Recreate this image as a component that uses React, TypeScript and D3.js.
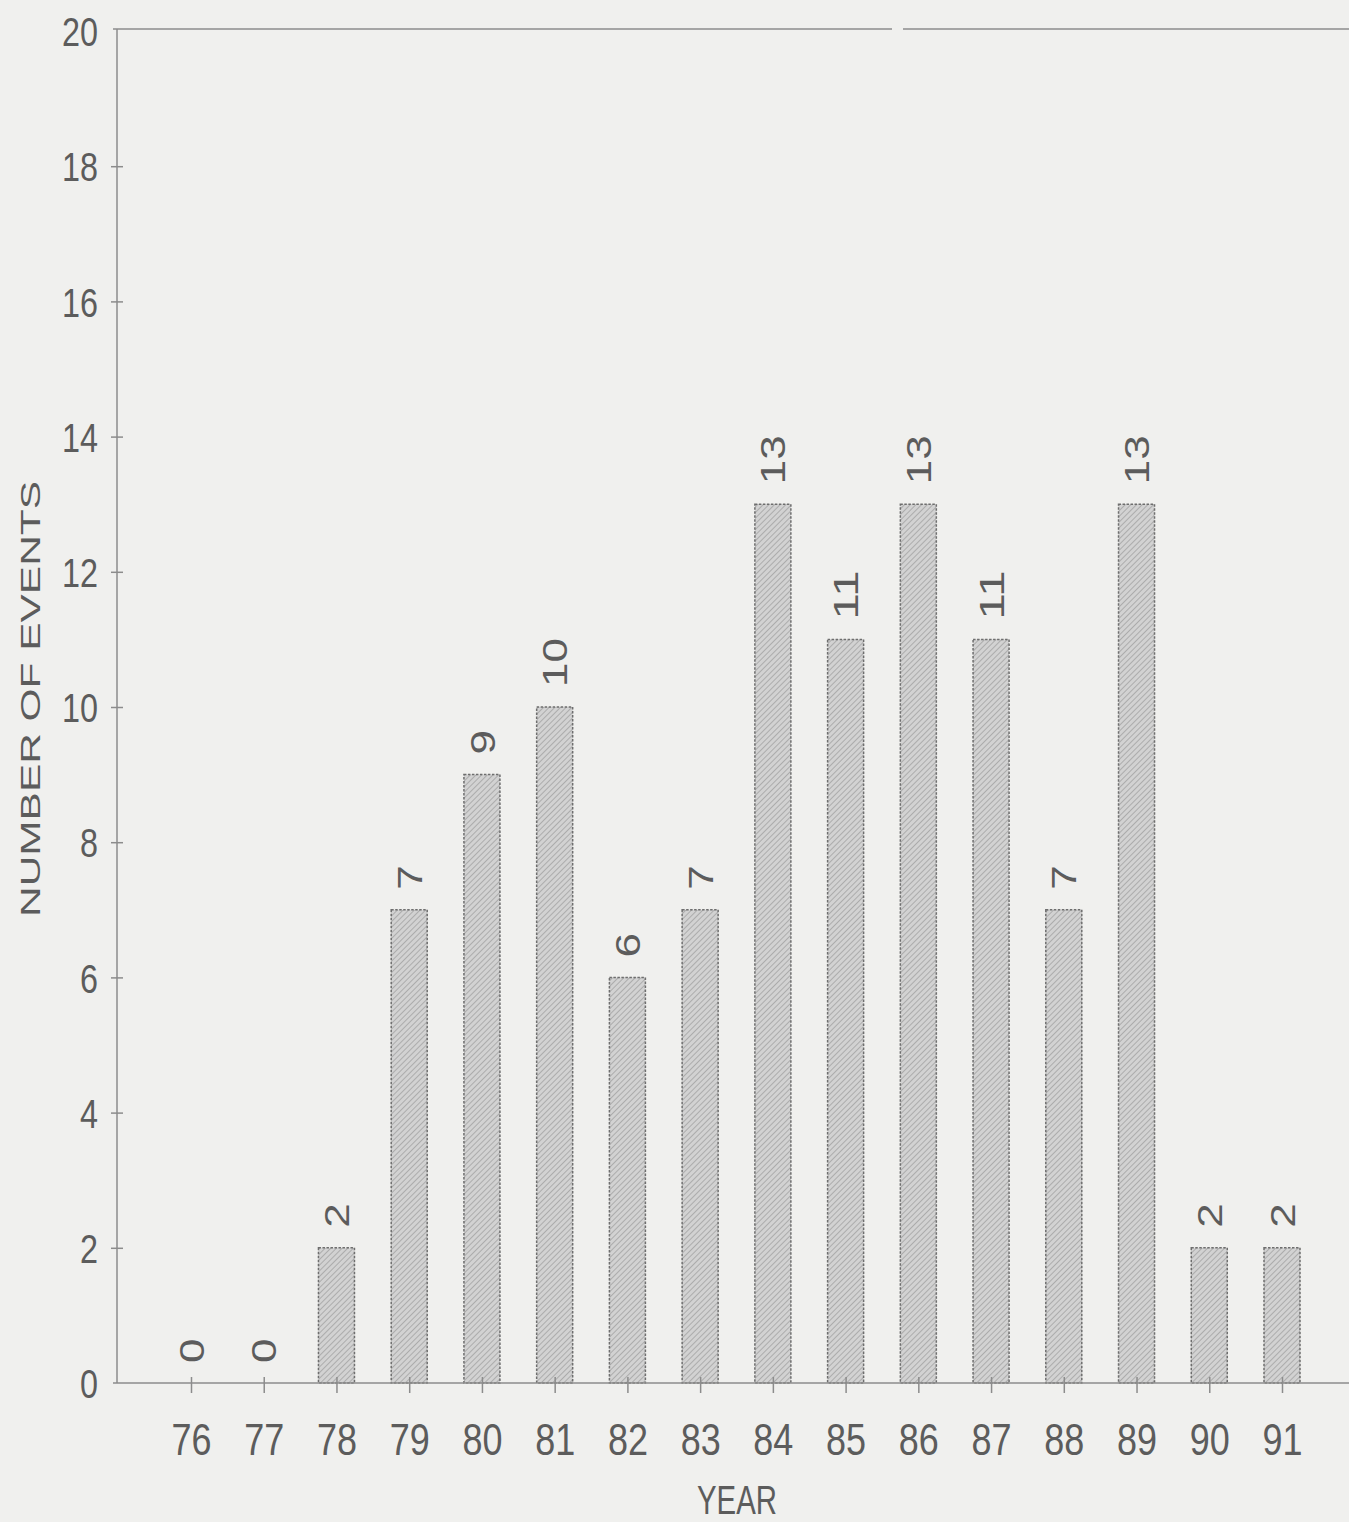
import React, { useEffect, useRef } from "react";
import * as d3 from "d3";

const years: string[] = ["76", "77", "78", "79", "80", "81", "82", "83", "84", "85", "86", "87", "88", "89", "90", "91"];
const events: number[] = [0, 0, 2, 7, 9, 10, 6, 7, 13, 11, 13, 11, 7, 13, 2, 2];
const yTicks: number[] = [0, 2, 4, 6, 8, 10, 12, 14, 16, 18, 20];

const W = 1349;
const H = 1522;
const FONT = "'Liberation Sans', Arial, sans-serif";
const INK = "#5c5c5c";
const LINE = "#8c8c8c";

export default function App() {
  const ref = useRef<SVGSVGElement | null>(null);

  useEffect(() => {
    const svg = d3.select(ref.current);
    svg.selectAll("*").remove();

    const x = d3.scalePoint<string>().domain(years).range([191, 1282]);
    const y = d3.scaleLinear().domain([0, 20]).range([1383, 31]);
    const axisX = 117;
    const axisY = y(0);

    const defs = svg.append("defs");
    const pat = defs
      .append("pattern")
      .attr("id", "hatch")
      .attr("patternUnits", "userSpaceOnUse")
      .attr("width", 4)
      .attr("height", 4)
      .attr("patternTransform", "rotate(45)");
    pat.append("rect").attr("width", 4).attr("height", 4).attr("fill", "#d2d2d2");
    pat.append("line").attr("x1", 0).attr("y1", 0).attr("x2", 0).attr("y2", 4).attr("stroke", "#9c9c9c").attr("stroke-width", 1.4);

    svg.append("rect").attr("width", W).attr("height", H).attr("fill", "#f0f0ee");

    // top frame line (with scan gap)
    svg.append("line").attr("x1", 113).attr("x2", 892).attr("y1", 29).attr("y2", 29).attr("stroke", LINE).attr("stroke-width", 1.5);
    svg.append("line").attr("x1", 903).attr("x2", W).attr("y1", 29).attr("y2", 29).attr("stroke", LINE).attr("stroke-width", 1.5);

    // bars
    const bw = 36;
    svg
      .append("g")
      .selectAll("rect")
      .data(events.map((v, i) => ({ v, yr: years[i] })).filter((d) => d.v > 0))
      .join("rect")
      .attr("x", (d) => (x(d.yr) as number) - bw / 2)
      .attr("y", (d) => y(d.v))
      .attr("width", bw)
      .attr("height", (d) => axisY - y(d.v))
      .attr("fill", "url(#hatch)")
      .attr("stroke", "#6e6e6e")
      .attr("stroke-width", 1.5)
      .attr("stroke-dasharray", "2.5,1.5");

    // y axis
    const gy = svg.append("g").attr("transform", `translate(${axisX},0)`);
    gy.call(d3.axisLeft(y).tickValues(yTicks).tickSize(6).tickSizeOuter(0).tickFormat((d) => String(d)));
    gy.select(".domain").attr("d", `M0,${29}V${axisY}`).attr("stroke", LINE).attr("stroke-width", 1.5);
    gy.selectAll(".tick line").attr("x1", 6).attr("x2", -6).attr("stroke", LINE).attr("stroke-width", 1.5);
    gy.selectAll(".tick")
      .filter((d: any) => d === 20 || d === 0)
      .select("line")
      .remove();
    gy.selectAll<SVGTextElement, number>(".tick text")
      .attr("x", -19)
      .attr("dy", "0.36em")
      .attr("fill", INK)
      .attr("font-family", FONT)
      .attr("font-size", 41)
      .attr("text-anchor", "end")
      .attr("textLength", (d) => 18 * String(d).length)
      .attr("lengthAdjust", "spacingAndGlyphs");

    // x axis
    const gx = svg.append("g").attr("transform", `translate(0,${axisY})`);
    gx.call(d3.axisBottom(x).tickSize(10).tickSizeOuter(0));
    gx.select(".domain").attr("d", `M113,0H${W}`).attr("stroke", LINE).attr("stroke-width", 1.5);
    gx.selectAll(".tick line").attr("y1", -6).attr("y2", 10).attr("stroke", LINE).attr("stroke-width", 1.5);
    gx.selectAll(".tick text")
      .attr("y", 72)
      .attr("dy", 0)
      .attr("fill", INK)
      .attr("font-family", FONT)
      .attr("font-size", 44)
      .attr("textLength", 40)
      .attr("lengthAdjust", "spacingAndGlyphs");

    // value labels
    svg
      .append("g")
      .selectAll("text")
      .data(events.map((v, i) => ({ v, yr: years[i] })))
      .join("text")
      .attr("transform", (d) => `translate(${x(d.yr)},${y(d.v) - 20}) rotate(-90)`)
      .attr("dy", "0.36em")
      .attr("fill", INK)
      .attr("font-family", FONT)
      .attr("font-size", 35)
      .attr("textLength", (d) => 24.5 * String(d.v).length)
      .attr("lengthAdjust", "spacingAndGlyphs")
      .text((d) => String(d.v));

    // axis titles
    svg
      .append("text")
      .attr("transform", `translate(30,699) rotate(-90)`)
      .attr("text-anchor", "middle")
      .attr("dy", "0.36em")
      .attr("fill", INK)
      .attr("font-family", FONT)
      .attr("font-size", 28)
      .attr("textLength", 436)
      .attr("lengthAdjust", "spacingAndGlyphs")
      .text("NUMBER OF EVENTS");

    svg
      .append("text")
      .attr("x", 737)
      .attr("y", 1514)
      .attr("text-anchor", "middle")
      .attr("fill", INK)
      .attr("font-family", FONT)
      .attr("font-size", 40)
      .attr("textLength", 80)
      .attr("lengthAdjust", "spacingAndGlyphs")
      .text("YEAR");
  }, []);

  return (
    <div style={{ position: "absolute", left: 0, top: 0 }}>
      <svg ref={ref} width={W} height={H} style={{ display: "block" }} />
    </div>
  );
}
